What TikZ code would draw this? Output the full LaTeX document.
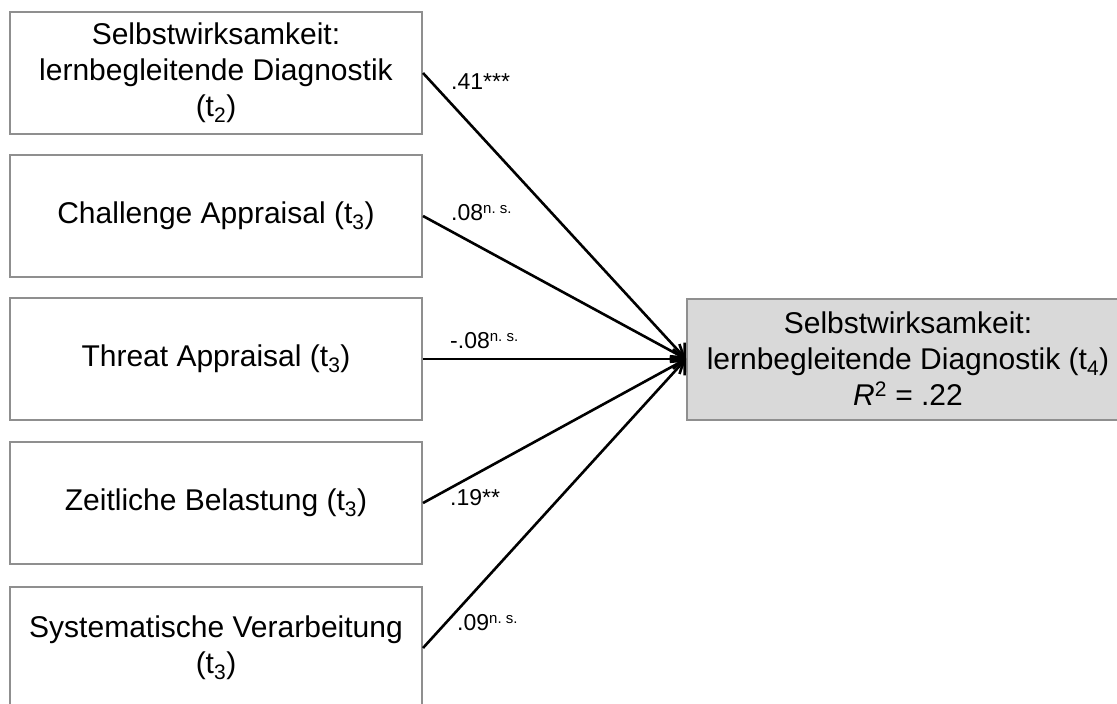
\documentclass[tikz,border=0pt]{standalone}
\usepackage{fontspec}
\setmainfont{Liberation Sans}
\usetikzlibrary{arrows.meta}

\definecolor{boxgray}{HTML}{8F8F8F}
\definecolor{outgray}{HTML}{D9D9D9}

\newcommand{\ns}{\raisebox{7pt}{\fontsize{15}{15}\selectfont n.~s.}}

\begin{document}
\begin{tikzpicture}
[x=1pt,y=-1pt,%
  every node/.style={font=\fontsize{30}{36}\selectfont},%
  box/.style={draw=boxgray,line width=2pt,inner sep=0pt,align=center,
    minimum width=412pt,minimum height=122pt},%
  coef/.style={anchor=base west,inner sep=0pt,font=\fontsize{23}{26}\selectfont},%
  path/.style={-{Straight Barb[length=11pt,width=20pt]},line width=2.6pt}]
\useasboundingbox (0,0) rectangle (1117,704);
\clip (0,0) rectangle (1117,704);
% predictors
\node[box] (se2) at (216,73) {Selbstwirksamkeit:\\lernbegleitende Diagnostik\\(t\textsubscript{2})};
\node[box] (ca) at (216,216) {Challenge Appraisal (t\textsubscript{3})};
\node[box] (ta) at (216,359) {Threat Appraisal (t\textsubscript{3})};
\node[box] (zb) at (216,503) {Zeitliche Belastung (t\textsubscript{3})};
\node[box] (sv) at (216,648) {Systematische Verarbeitung\\(t\textsubscript{3})};
% outcome
\node[box,fill=outgray,minimum width=442pt,minimum height=121pt] (se4) at (908,359)
  {Selbstwirksamkeit:\\lernbegleitende Diagnostik (t\textsubscript{4})\\\textit{R}\textsuperscript{2} = .22};
% paths
\draw[path] (se2.east) -- (se4.west);
\draw[path] (ca.east) -- (se4.west);
\draw[path] (ta.east) -- (se4.west);
\draw[path] (zb.east) -- (se4.west);
\draw[path] (sv.east) -- (se4.west);
% coefficients
\node[coef] (b1) at (451,89) {.41***};
\node[coef] (b2) at (451,220) {.08\ns};
\node[coef] (b3) at (450,348) {-.08\ns};
\node[coef] (b4) at (450,505) {.19**};
\node[coef] (b5) at (457,630) {.09\ns};
\end{tikzpicture}
\end{document}
